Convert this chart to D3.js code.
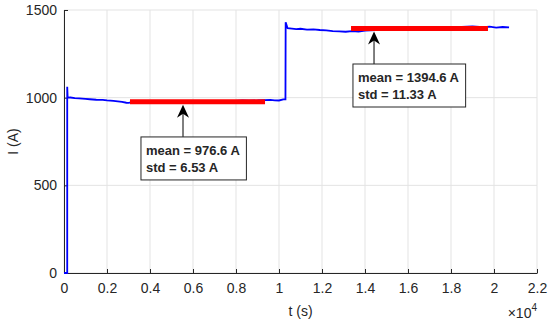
<!DOCTYPE html>
<html>
<head>
<meta charset="utf-8">
<script src="https://cdn.jsdelivr.net/npm/d3@7"></script>
<style>
	body { margin: 0; background: #fff; }
	text { font-family: 'Liberation Sans', Arial, sans-serif; fill: #262626; }
</style>
</head>
<body>
<div class="graphic"></div>
<script>
// current trace (time s, current A)
const time = [0, 150, 150, 170, 300, 500, 700, 1000, 1200, 1500, 1800, 2000, 2300, 2500, 2700, 2900, 3000, 3200,
	3600, 4000, 4500, 5000, 5500, 6000, 6500, 7000, 7500, 8000, 8300, 8600, 9000, 9300, 9600, 9800, 10000, 10200, 10300,
	10310, 10400, 10600, 10800, 11000, 11300, 11600, 11900, 12200, 12500, 12800, 13100, 13400, 13700, 14000,
	14500, 15000, 15500, 16000, 16500, 17000, 17500, 18000, 18500, 19000, 19500, 19800, 20100, 20400, 20700]
const current = [0, 0, 1062, 1000, 1001, 997, 996, 993, 991, 988, 987, 984, 982, 979, 976, 971, 970, 974,
	976, 975, 977, 976, 978, 977, 979, 978, 980, 982, 985, 983, 984, 986, 987, 985, 984, 990, 990,
	1430, 1396, 1394, 1391, 1393, 1388, 1390, 1386, 1384, 1380, 1378, 1376, 1379, 1377, 1382,
	1385, 1390, 1394, 1396, 1398, 1400, 1402, 1404, 1403, 1406, 1402, 1405, 1400, 1403, 1401]

// mean bands
const bandStart = [3070, 13350]
const bandEnd = [9350, 19720]
const bandMean = [976.6, 1394.6]
const bandStd = [6.53, 11.33]

// annotation boxes: arrow x, box left/top in data units
const arrowT = [5535, 14420]
const boxT = [3580, 13440]
const boxI = [776, 1192]

const xTicks = [0, 2000, 4000, 6000, 8000, 10000, 12000, 14000, 16000, 18000, 20000, 22000]
const yTicks = [0, 500, 1000, 1500]

const width = 550
const height = 323
const margin = { top: 10, right: 13, bottom: 50, left: 64 }

const svg = d3.select('.graphic').append('svg')
	.attr('width', width)
	.attr('height', height)

const x = d3.scaleLinear().domain([0, 22000]).range([margin.left, width - margin.right])
const y = d3.scaleLinear().domain([0, 1500]).range([height - margin.bottom, margin.top])

// grid
svg.append('g')
	.selectAll('line')
	.data(xTicks)
	.join('line')
		.attr('x1', d => x(d)).attr('x2', d => x(d))
		.attr('y1', y(0)).attr('y2', y(1500))
		.attr('stroke', '#e3e3e3')
svg.append('g')
	.selectAll('line')
	.data(yTicks)
	.join('line')
		.attr('x1', x(0)).attr('x2', x(22000))
		.attr('y1', d => y(d)).attr('y2', d => y(d))
		.attr('stroke', '#e3e3e3')

// axes, ticks pointing inward
const xAxis = svg.append('g')
	.attr('transform', `translate(0,${y(0)})`)
	.call(d3.axisBottom(x).tickValues(xTicks).tickSizeInner(-4).tickSizeOuter(0).tickPadding(10)
		.tickFormat(d => d === 0 ? '0' : d3.format('~g')(d / 10000)))
const yAxis = svg.append('g')
	.attr('transform', `translate(${x(0)},0)`)
	.call(d3.axisLeft(y).tickValues(yTicks).tickSizeInner(-4).tickSizeOuter(0).tickPadding(7)
		.tickFormat(d3.format('d')))

;[xAxis, yAxis].forEach(a => {
	a.select('.domain').attr('stroke', '#262626')
	a.selectAll('.tick line').attr('stroke', '#262626')
	a.selectAll('.tick text').attr('font-size', 14).attr('fill', '#262626')
		.attr('font-family', "'Liberation Sans', Arial, sans-serif")
})

// trace
const trace = time.map((t, i) => [t, current[i]])
svg.append('path')
	.datum(trace)
	.attr('fill', 'none')
	.attr('stroke', '#0000ff')
	.attr('stroke-width', 1.8)
	.attr('d', d3.line().x(d => x(d[0])).y(d => y(d[1])))

// mean bands
svg.append('g')
	.selectAll('line')
	.data(bandMean)
	.join('line')
		.attr('x1', (d, i) => x(bandStart[i]))
		.attr('x2', (d, i) => x(bandEnd[i]))
		.attr('y1', d => y(d)).attr('y2', d => y(d))
		.attr('stroke', '#ff0000')
		.attr('stroke-width', 5)

// annotations
bandMean.forEach((m, i) => {
	const ax = x(arrowT[i])
	const tip = y(m) + 3
	const bx = x(boxT[i])
	const by = y(boxI[i])
	const g = svg.append('g')
	g.append('line')
		.attr('x1', ax).attr('x2', ax)
		.attr('y1', by).attr('y2', tip + 8)
		.attr('stroke', '#000').attr('stroke-width', 1)
	g.append('path')
		.attr('d', `M${ax},${tip} L${ax + 6},${tip + 13} L${ax},${tip + 9} L${ax - 6},${tip + 13} Z`)
		.attr('fill', '#000')
	const rect = g.append('rect')
		.attr('x', bx).attr('y', by)
		.attr('height', 43)
		.attr('fill', '#fff')
		.attr('stroke', '#262626')
	const t1 = g.append('text')
		.attr('x', bx + 5).attr('y', by + 18)
		.attr('font-size', 13).attr('font-weight', 'bold').attr('fill', '#000')
		.text(`mean = ${m} A`)
	g.append('text')
		.attr('x', bx + 5).attr('y', by + 35)
		.attr('font-size', 13).attr('font-weight', 'bold').attr('fill', '#000')
		.text(`std = ${bandStd[i]} A`)
	rect.attr('width', t1.node().getBBox().width + 11)
})

// labels
svg.append('text')
	.attr('x', (x(0) + x(22000)) / 2)
	.attr('y', 316)
	.attr('text-anchor', 'middle')
	.attr('font-size', 14)
	.text('t (s)')

svg.append('text')
	.attr('transform', `translate(18,${(y(0) + y(1500)) / 2}) rotate(-90)`)
	.attr('text-anchor', 'middle')
	.attr('font-size', 14)
	.text('I (A)')

const exp = svg.append('text')
	.attr('x', x(22000))
	.attr('y', 318)
	.attr('text-anchor', 'end')
	.attr('font-size', 14)
exp.append('tspan').text('×10')
exp.append('tspan').attr('dy', -7).attr('font-size', 10).text('4')
</script>
</body>
</html>
